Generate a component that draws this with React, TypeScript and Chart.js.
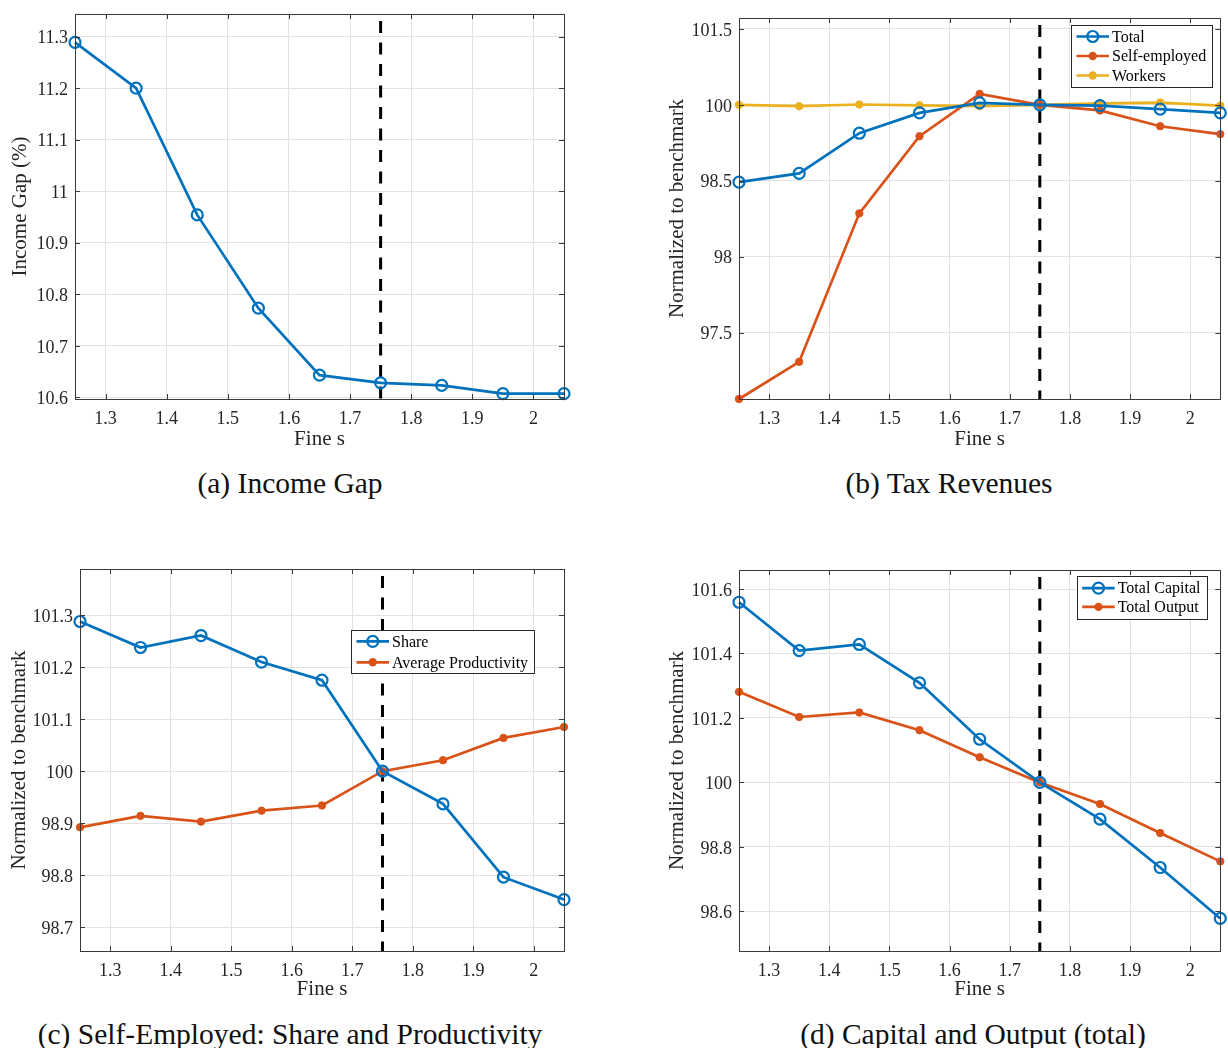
import React, { useEffect, useRef } from "react";
import { Chart, registerables } from "chart.js";

Chart.register(...registerables);

// ---------------- data ----------------
const fineS = [1.25, 1.35, 1.45, 1.55, 1.65, 1.75, 1.85, 1.95, 2.05];
const benchmarkS = 1.75;
const xTickValues = [1.3, 1.4, 1.5, 1.6, 1.7, 1.8, 1.9, 2.0];
const xTickLabels = ["1.3", "1.4", "1.5", "1.6", "1.7", "1.8", "1.9", "2"];
const xTitle = "Fine s";

// (a) Income gap
const incomeGap = [11.289, 11.2, 10.954, 10.773, 10.643, 10.628, 10.623, 10.607, 10.607];
const incomeGapTickValues = [10.6, 10.7, 10.8, 10.9, 11.0, 11.1, 11.2, 11.3];
const incomeGapTickLabels = ["10.6", "10.7", "10.8", "10.9", "11", "11.1", "11.2", "11.3"];

// (b) Tax revenues
const taxTotal = [99.491, 99.548, 99.813, 99.947, 100.013, 100.0, 99.995, 99.972, 99.947];
const taxSelfEmployed = [98.062, 98.307, 99.285, 99.793, 100.072, 100.0, 99.963, 99.859, 99.807];
const taxWorkers = [100.0, 99.991, 100.002, 99.997, 99.991, 100.0, 100.009, 100.015, 99.995];
const taxTickValues = [98.5, 99.0, 99.5, 100.0, 100.5];
const taxTickLabels = ["97.5", "98", "98.5", "100", "101.5"];

// (c) Self-employed: share and productivity
const seShare = [100.288, 100.238, 100.261, 100.21, 100.175, 100.0, 99.937, 99.796, 99.753];
const seProductivity = [99.892, 99.914, 99.903, 99.924, 99.934, 100.0, 100.021, 100.064, 100.085];
const seTickValues = [99.7, 99.8, 99.9, 100.0, 100.1, 100.2, 100.3];
const seTickLabels = ["98.7", "98.8", "98.9", "100", "101.1", "101.2", "101.3"];

// (d) Capital and output
const totalCapital = [100.559, 100.409, 100.428, 100.309, 100.134, 100.0, 99.886, 99.736, 99.578];
const totalOutput = [100.281, 100.203, 100.217, 100.162, 100.078, 100.0, 99.933, 99.843, 99.755];
const coTickValues = [99.6, 99.8, 100.0, 100.2, 100.4, 100.6];
const coTickLabels = ["98.6", "98.8", "100", "101.2", "101.4", "101.6"];

// ---------------- styles ----------------
const BLUE = "#0072BD";
const ORANGE = "#D95319";
const YELLOW = "#EDB120";
const FONT = "'Liberation Serif', 'Times New Roman', serif";
const AXIS_COLOR = "#262626";
const GRID_COLOR = "#e2e2e2";

type Series = { label: string; values: number[]; color: string; open: boolean };
type LegendSpec = { x: number; y: number; h: number; spacing: number } | null;
type PanelSpec = {
  left: number; top: number; width: number; height: number;
  padTop: number; padRight: number;
  yWidth: number; xHeight: number;
  yTitlePad: number; xTitlePad: number;
  yMin: number; yMax: number;
  yTicks: number[]; yLabels: string[];
  yTitle: string;
  series: Series[];
  legend: LegendSpec;
};

const panels: PanelSpec[] = [
  {
    left: 0, top: 0, width: 600, height: 460,
    padTop: 14, padRight: 36, yWidth: 75, xHeight: 61,
    yTitlePad: 7.4, xTitlePad: 8.4,
    yMin: 10.5967, yMax: 11.344,
    yTicks: incomeGapTickValues, yLabels: incomeGapTickLabels,
    yTitle: "Income Gap (%)",
    series: [{ label: "Income Gap", values: incomeGap, color: BLUE, open: true }],
    legend: null,
  },
  {
    left: 620, top: 0, width: 608, height: 460,
    padTop: 18, padRight: 5, yWidth: 119, xHeight: 61,
    yTitlePad: 44.9, xTitlePad: 8,
    yMin: 98.062, yMax: 100.572,
    yTicks: taxTickValues, yLabels: taxTickLabels,
    yTitle: "Normalized to benchmark",
    series: [
      { label: "Total", values: taxTotal, color: BLUE, open: true },
      { label: "Self-employed", values: taxSelfEmployed, color: ORANGE, open: false },
      { label: "Workers", values: taxWorkers, color: YELLOW, open: false },
    ],
    legend: { x: 451, y: 25, h: 62, spacing: 19.5 },
  },
  {
    left: 0, top: 550, width: 600, height: 460,
    padTop: 19, padRight: 36, yWidth: 80, xHeight: 59,
    yTitlePad: 6.4, xTitlePad: 8.2,
    yMin: 99.654, yMax: 100.389,
    yTicks: seTickValues, yLabels: seTickLabels,
    yTitle: "Normalized to benchmark",
    series: [
      { label: "Share", values: seShare, color: BLUE, open: true },
      { label: "Average Productivity", values: seProductivity, color: ORANGE, open: false },
    ],
    legend: { x: 351, y: 80.3, h: 43, spacing: 21 },
  },
  {
    left: 620, top: 550, width: 608, height: 460,
    padTop: 20, padRight: 5, yWidth: 119, xHeight: 59,
    yTitlePad: 44.9, xTitlePad: 8.2,
    yMin: 99.477, yMax: 100.659,
    yTicks: coTickValues, yLabels: coTickLabels,
    yTitle: "Normalized to benchmark",
    series: [
      { label: "Total Capital", values: totalCapital, color: BLUE, open: true },
      { label: "Total Output", values: totalOutput, color: ORANGE, open: false },
    ],
    legend: { x: 456.7, y: 26, h: 43, spacing: 18.7 },
  },
];

const captions = [
  { text: "(a) Income Gap", cx: 290, cy: 483 },
  { text: "(b) Tax Revenues", cx: 949, cy: 483 },
  { text: "(c) Self-Employed: Share and Productivity", cx: 290, cy: 1034 },
  { text: "(d) Capital and Output (total)", cx: 973, cy: 1034 },
];

const OPEN_R = 5.5;
const DOT_R = 4.2;
const LINE_W = 2.7;

function drawMarker(ctx: CanvasRenderingContext2D, s: Series, x: number, y: number) {
  ctx.save();
  ctx.beginPath();
  if (s.open) {
    ctx.arc(x, y, OPEN_R, 0, Math.PI * 2);
    ctx.lineWidth = 2.2;
    ctx.strokeStyle = s.color;
    ctx.stroke();
  } else {
    ctx.arc(x, y, DOT_R, 0, Math.PI * 2);
    ctx.fillStyle = s.color;
    ctx.fill();
  }
  ctx.restore();
}

function Panel({ spec }: { spec: PanelSpec }) {
  const ref = useRef<HTMLCanvasElement>(null);

  useEffect(() => {
    const canvas = ref.current;
    if (!canvas) return;

    const framePlugin = {
      id: "matlabFrame",
      beforeDatasetsDraw(chart: any) {
        const { ctx, chartArea: a, scales } = chart;
        const x = scales.x.getPixelForValue(benchmarkS);
        ctx.save();
        ctx.beginPath();
        ctx.strokeStyle = "#000";
        ctx.lineWidth = 3;
        ctx.setLineDash([12, 9.5]);
        ctx.moveTo(x, a.top + 7);
        ctx.lineTo(x, a.bottom);
        ctx.stroke();
        ctx.restore();
      },
      afterDraw(chart: any) {
        const { ctx, chartArea: a, scales } = chart;
        ctx.save();
        ctx.strokeStyle = "#3a3a3a";
        ctx.lineWidth = 1;
        ctx.strokeRect(Math.round(a.left) + 0.5, Math.round(a.top) + 0.5,
          Math.round(a.right - a.left), Math.round(a.bottom - a.top));
        ctx.beginPath();
        const tl = 5;
        for (const v of xTickValues) {
          const x = Math.round(scales.x.getPixelForValue(v)) + 0.5;
          ctx.moveTo(x, a.bottom); ctx.lineTo(x, a.bottom - tl);
          ctx.moveTo(x, a.top); ctx.lineTo(x, a.top + tl);
        }
        for (const v of spec.yTicks) {
          const y = Math.round(scales.y.getPixelForValue(v)) + 0.5;
          ctx.moveTo(a.left, y); ctx.lineTo(a.left + tl, y);
          ctx.moveTo(a.right, y); ctx.lineTo(a.right - tl, y);
        }
        ctx.stroke();

        const lg = spec.legend;
        if (lg) {
          ctx.font = `16px ${FONT}`;
          let tw = 0;
          for (const s of spec.series) tw = Math.max(tw, ctx.measureText(s.label).width);
          const w = 41 + tw + 6;
          ctx.fillStyle = "#fff";
          ctx.fillRect(lg.x, lg.y, w, lg.h);
          ctx.strokeStyle = "#262626";
          ctx.lineWidth = 1;
          ctx.strokeRect(Math.round(lg.x) + 0.5, Math.round(lg.y) + 0.5, Math.round(w), Math.round(lg.h));
          const n = spec.series.length;
          const first = lg.y + (lg.h - (n - 1) * lg.spacing) / 2;
          spec.series.forEach((s, i) => {
            const cy = first + i * lg.spacing;
            ctx.beginPath();
            ctx.strokeStyle = s.color;
            ctx.lineWidth = LINE_W;
            ctx.moveTo(lg.x + 5.5, cy);
            ctx.lineTo(lg.x + 38, cy);
            ctx.stroke();
            drawMarker(ctx, s, lg.x + 21.75, cy);
            ctx.fillStyle = "#000";
            ctx.textBaseline = "middle";
            ctx.textAlign = "left";
            ctx.fillText(s.label, lg.x + 41, cy + 1);
          });
        }
        ctx.restore();
      },
    };

    const tickFont = { family: FONT, size: 18 };
    const titleFont = { family: FONT, size: 21 };

    const chart = new Chart(canvas, {
      type: "line",
      data: {
        datasets: spec.series.map((s) => ({
          label: s.label,
          data: fineS.map((x, i) => ({ x, y: s.values[i] })),
          borderColor: s.color,
          backgroundColor: s.color,
          borderWidth: LINE_W,
          pointRadius: s.open ? OPEN_R : DOT_R - 0.5,
          pointBorderWidth: s.open ? 2.2 : 1,
          pointBackgroundColor: s.open ? "rgba(0,0,0,0)" : s.color,
          pointBorderColor: s.color,
          tension: 0,
          clip: false as any,
        })),
      },
      options: {
        animation: false,
        responsive: false,
        maintainAspectRatio: false,
        events: [],
        layout: { padding: { top: spec.padTop, right: spec.padRight, left: 0, bottom: 0 } },
        plugins: {
          legend: { display: false },
          tooltip: { enabled: false },
        },
        scales: {
          x: {
            type: "linear",
            min: 1.25,
            max: 2.05,
            bounds: "data",
            afterBuildTicks: (sc: any) => {
              sc.ticks = xTickValues.map((v) => ({ value: v }));
            },
            afterFit: (sc: any) => {
              sc.height = spec.xHeight;
              sc.paddingLeft = 0;
              sc.paddingRight = 0;
            },
            ticks: {
              callback: (_v: any, i: number) => xTickLabels[i],
              font: tickFont,
              color: AXIS_COLOR,
              padding: 9,
              maxRotation: 0,
              autoSkip: false,
            },
            grid: { color: GRID_COLOR, drawTicks: false, lineWidth: 1 },
            border: { display: false },
            title: {
              display: true,
              text: xTitle,
              font: titleFont,
              color: AXIS_COLOR,
              padding: { top: 0, bottom: spec.xTitlePad },
            },
          },
          y: {
            type: "linear",
            min: spec.yMin,
            max: spec.yMax,
            bounds: "data",
            afterBuildTicks: (sc: any) => {
              sc.ticks = spec.yTicks.map((v) => ({ value: v }));
            },
            afterFit: (sc: any) => {
              sc.width = spec.yWidth;
              sc.paddingTop = 0;
              sc.paddingBottom = 0;
            },
            ticks: {
              callback: (_v: any, i: number) => spec.yLabels[i],
              font: tickFont,
              color: AXIS_COLOR,
              padding: 7,
              labelOffset: 2,
              autoSkip: false,
            },
            grid: { color: GRID_COLOR, drawTicks: false, lineWidth: 1 },
            border: { display: false },
            title: {
              display: true,
              text: spec.yTitle,
              font: titleFont,
              color: AXIS_COLOR,
              padding: { top: spec.yTitlePad, bottom: 0 },
            },
          },
        },
      } as any,
      plugins: [framePlugin],
    });

    return () => chart.destroy();
  }, [spec]);

  return (
    <canvas
      ref={ref}
      width={spec.width}
      height={spec.height}
      style={{
        position: "absolute",
        left: spec.left,
        top: spec.top,
        width: spec.width,
        height: spec.height,
        display: "block",
      }}
    />
  );
}

export default function App() {
  return (
    <div
      style={{
        position: "absolute",
        left: 0,
        top: 0,
        width: 1228,
        height: 1048,
        background: "#fff",
        overflow: "hidden",
      }}
    >
      {panels.map((p, i) => (
        <Panel key={i} spec={p} />
      ))}
      {captions.map((c, i) => (
        <div
          key={"cap" + i}
          style={{
            position: "absolute",
            left: c.cx - 300,
            top: c.cy - 20,
            width: 600,
            height: 40,
            lineHeight: "40px",
            textAlign: "center",
            fontFamily: FONT,
            fontSize: 29.5,
            color: "#111",
            whiteSpace: "nowrap",
          }}
        >
          {c.text}
        </div>
      ))}
    </div>
  );
}
